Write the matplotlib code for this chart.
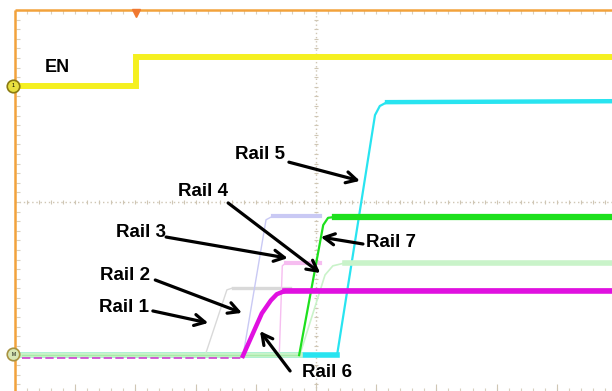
import numpy as np
import matplotlib
matplotlib.use("Agg")
import matplotlib.pyplot as plt

plt.rcParams['font.family'] = ['Liberation Sans', 'DejaVu Sans']

# scope screen, in divisions (10 x 8), time on x, level on y
# EN signal
en_t = [0.12, 2.01, 2.01, 9.92]
en_v = [6.42, 6.42, 7.02, 7.02]

# rails: breakpoints
rail1_t = [0.12, 3.16, 3.52, 3.62, 4.57]
rail1_v = [0.81, 0.81, 2.17, 2.21, 2.21]

rail2_t = [0.12, 3.79, 4.17, 4.29, 5.07]
rail2_v = [0.81, 0.81, 3.63, 3.71, 3.71]

rail3_t = [0.12, 4.39, 4.44, 4.50, 5.07]
rail3_v = [0.81, 0.81, 2.67, 2.73, 2.73]

rail4_t = [0.12, 4.73, 5.15, 5.28, 5.48, 9.92]
rail4_v = [0.81, 0.81, 2.48, 2.67, 2.73, 2.73]

rail5_t = [0.12, 5.35, 5.98, 6.06, 6.18, 9.92]
rail5_v = [0.81, 0.81, 5.81, 6.00, 6.08, 6.10]

rail6_t = [0.12, 3.77, 4.10, 4.25, 4.35, 4.49, 9.92]
rail6_v = [0.75, 0.75, 1.68, 1.95, 2.08, 2.15, 2.15]

rail7_t = [0.12, 4.72, 5.12, 5.20, 5.32, 9.92]
rail7_v = [0.81, 0.81, 3.52, 3.67, 3.69, 3.69]

# callouts: label, text pos, arrow tail, arrow head
labels = ["Rail 1", "Rail 2", "Rail 3", "Rail 4", "Rail 5", "Rail 6", "Rail 7"]
label_pos = [(1.40, 1.81), (1.41, 2.46), (1.68, 3.375), (2.71, 4.21),
             (3.65, 4.98), (4.77, 0.44), (5.83, 3.15)]
arrow_tail = [(2.29, 1.73), (2.33, 2.375), (2.51, 3.27), (3.54, 3.98),
              (4.55, 4.83), (4.57, 0.48), (5.78, 3.125)]
arrow_head = [(3.21, 1.48), (3.77, 1.69), (4.53, 2.83), (5.07, 2.52),
              (5.73, 4.44), (4.07, 1.31), (5.08, 3.27)]

DIV_X = 60.2  # px per division
DIV_Y = 48.0

fig = plt.figure(figsize=(6.12, 3.91), dpi=100)
ax = fig.add_axes([0, 0, 1, 1])
ax.set_xlim(-15 / DIV_X, 597 / DIV_X)
ax.set_ylim(3 / DIV_Y, 394 / DIV_Y)
ax.axis('off')

# graticule
grid_c = '#cfc6b4'
ax.plot([5, 5], [0, 8], color=grid_c, lw=1, ls=(0, (1, 2)), zorder=1)
ax.plot([0, 10], [4, 4], color=grid_c, lw=1, ls=(0, (1, 2)), zorder=1)
minor_x = np.arange(0, 10.01, 0.2)
minor_y = np.arange(0, 8.01, 0.2)
ax.vlines(minor_x, 4 - 0.05, 4 + 0.05, color=grid_c, lw=0.8, zorder=1)
ax.hlines(minor_y, 5 - 0.04, 5 + 0.04, color=grid_c, lw=0.8, zorder=1)
ax.vlines(minor_x, 8 - 0.08, 8, color='#d8d0c0', lw=0.8, zorder=1)
ax.hlines(minor_y, 0.02, 0.08, color='#d8d0c0', lw=0.8, zorder=1)
ax.vlines(minor_x, 0, 0.12, color='#d8d0c0', lw=0.8, zorder=1)
ax.vlines(np.arange(0, 10.01, 1), 0, 0.2, color='#cfc6b4', lw=0.8, zorder=1)

# orange frame
ax.plot([0, 0], [0, 8], color='#f2a23c', lw=1.8, zorder=2, solid_capstyle='butt')
ax.plot([0, 10], [8, 8], color='#f2a23c', lw=1.8, zorder=2, solid_capstyle='butt')
ax.plot([en_t[1]], [7.93], marker='v', ms=6, color='#f07830', zorder=3)


def trace(t, v, color, thin, thick, z):
    ax.plot(t, v, color=color, lw=thin, zorder=z, solid_joinstyle='round')
    ax.plot(t[-2:], v[-2:], color=color, lw=thick, zorder=z)


# cyan first so the pale baseline band covers it
trace(rail5_t, rail5_v, '#28e4f0', 1.6, 3.2, 3)
ax.plot(rail5_t[:2], rail5_v[:2], color='#28e4f0', lw=4, zorder=3)
trace(rail1_t, rail1_v, '#d9d9d9', 1.0, 2.4, 4)
trace(rail2_t, rail2_v, '#c9c9f4', 1.0, 3.0, 4)
trace(rail3_t, rail3_v, '#f6bdf0', 1.0, 3.0, 4)
trace(rail4_t, rail4_v, '#c9f3c9', 1.2, 4.0, 5)
ax.plot(rail4_t[:2], rail4_v[:2], color='#c9f3c9', lw=4.0, zorder=5)
trace(rail7_t[1:], rail7_v[1:], '#1ee01e', 1.6, 4.5, 6)
ax.plot(rail7_t[:2], rail7_v[:2], color='#a8eaa8', lw=1.0, zorder=5)
ax.plot(rail6_t[:2], rail6_v[:2], color='#d040d0', lw=1.2, ls=(0, (5, 2)), zorder=6)
ax.plot(rail6_t[1:], rail6_v[1:], color='#e010e0', lw=3.2, zorder=6,
        solid_capstyle='butt', solid_joinstyle='round')
ax.plot(rail6_t[-2:], rail6_v[-2:], color='#e010e0', lw=4.0, zorder=6)

ax.plot(en_t, en_v, color='#f5f020', lw=4.3, zorder=6, solid_joinstyle='miter')

# channel markers on the left edge
ax.plot([-0.03], [en_v[0]], marker='o', ms=9, mfc='#e8e040', mec='#8a7a10',
        mew=1.2, zorder=7)
ax.text(-0.03, en_v[0], '1', fontsize=4, ha='center', va='center', zorder=8)
ax.plot([-0.03], [0.83], marker='o', ms=9, mfc='#d8e6b4', mec='#a89240',
        mew=1.2, zorder=7)
ax.text(-0.03, 0.83, 'M', fontsize=3.5, ha='center', va='center', zorder=8)

# labels and arrows
ax.text(0.50, 6.81, 'EN', fontsize=13, fontweight='bold', ha='left',
        va='center', zorder=9)
for name, pos, tail, head in zip(labels, label_pos, arrow_tail, arrow_head):
    ax.text(pos[0], pos[1], name, fontsize=13.5, fontweight='bold', ha='left',
            va='center', zorder=9)
    ax.annotate('', xy=head, xytext=tail, zorder=9,
                arrowprops=dict(arrowstyle='->,head_length=0.75,head_width=0.4',
                                lw=2.3, color='black', shrinkA=0, shrinkB=0))

plt.savefig('out.png', dpi=100)
